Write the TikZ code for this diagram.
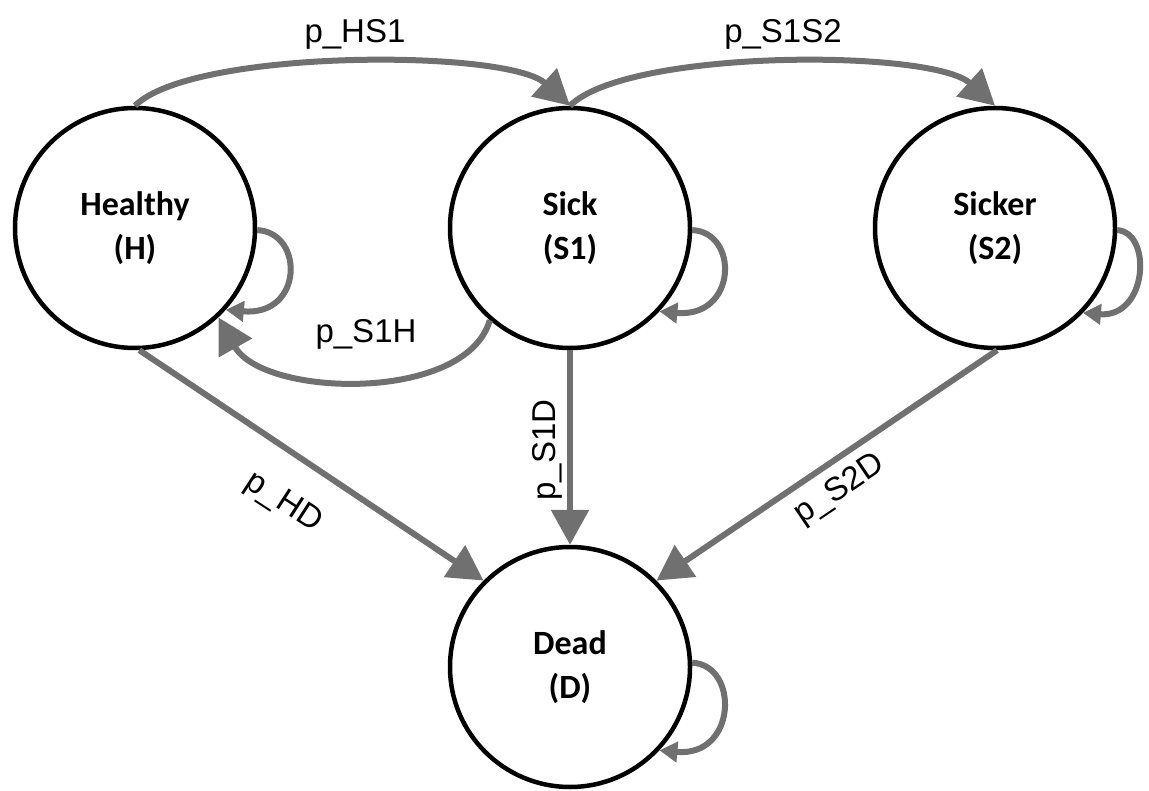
\documentclass[tikz,border=0pt]{standalone}
\usepackage{fontspec}
\setmainfont{Carlito}
\newfontfamily\labfont{Liberation Sans}
\usetikzlibrary{arrows.meta}
\definecolor{arr}{RGB}{112,112,112}
\begin{document}
\begin{tikzpicture}[x=1pt,y=-1pt,
  state/.style={circle,draw=black,fill=white,line width=4.5pt,minimum size=240pt,inner sep=0pt,align=center,font=\bfseries\fontsize{34}{44}\selectfont},
  conn/.style={draw=arr,line width=6pt,-{Triangle[length=35pt,width=37pt]}},
  loopc/.style={draw=arr,line width=6pt,-{Triangle[length=18pt,width=20pt]}},
  lab/.style={font=\labfont\fontsize{33}{38}\selectfont,inner sep=0pt}]
\useasboundingbox[fill=white] (0,0) rectangle (1149,791);

\node[state] (H)  at (135,228) {Healthy\\(H)};
\node[state] (S1) at (570,228) {Sick\\(S1)};
\node[state] (S2) at (995,228) {Sicker\\(S2)};
\node[state] (D)  at (570,667) {Dead\\(D)};

% transitions along the top
\draw[conn] (H.north) .. controls +(57,-57) and +(-63,-57) .. (S1.north);
\draw[conn] (S1.north) .. controls +(57,-57) and +(-63,-57) .. (S2.north);
% back to healthy
\draw[conn] (S1.229) .. controls +(-24,83) and +(45,80) .. (H.-47);
% to dead
\draw[conn] (H.-88) -- (D.135);
\draw[conn] (S1.south) -- (D.north);
\draw[conn] (S2.-89) -- (D.45);

% self loops
\draw[loopc] (H.-1) .. controls +(47,2) and +(78,7) .. (H.-42);
\draw[loopc] (S1.-1) .. controls +(47,2) and +(78,7) .. (S1.-43);
\draw[loopc] (S2.-1) .. controls +(35,2) and +(65,5) .. (S2.-44);
\draw[loopc] (D.2) .. controls +(47,2) and +(78,7) .. (D.-43);

% labels
\node[lab,anchor=base] (lHS1) at (355,43) {p\_HS1};
\node[lab,anchor=base] (lS1S2) at (783,43) {p\_S1S2};
\node[lab,anchor=base] (lS1H) at (366,343) {p\_S1H};
\node[lab,rotate=-33] (lHD) at (283,503) {p\_HD};
\node[lab,rotate=90] (lS1D) at (547,450) {p\_S1D};
\node[lab,rotate=34] (lS2D) at (840,490) {p\_S2D};
\end{tikzpicture}
\end{document}
